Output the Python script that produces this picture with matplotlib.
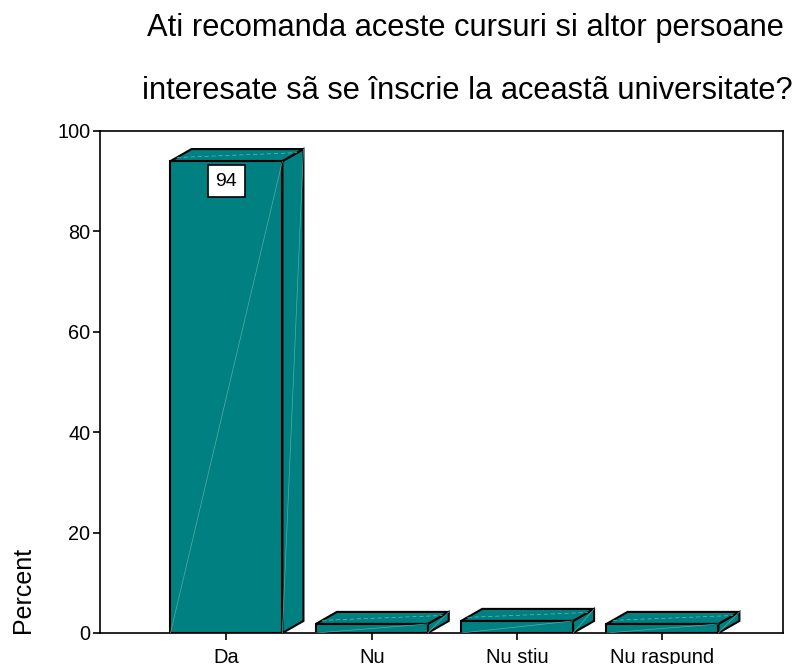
import matplotlib.pyplot as plt
from matplotlib.patches import Polygon
import numpy as np

plt.rcParams['font.family'] = ['Liberation Sans', 'DejaVu Sans']

categories = ['Da', 'Nu', 'Nu stiu', 'Nu raspund']
percent = [94, 1.8, 2.4, 1.8]
title_lines = ['Ati recomanda aceste cursuri si altor persoane',
               'interesate sã se înscrie la aceastã universitate?']

face = '#008080'
width = 0.77
dx, dy = 0.145, 2.4   # 3d depth offset in data units

fig = plt.figure(figsize=(8.1, 6.64), dpi=100)
ax = fig.add_axes([100 / 810, 31 / 664, 683 / 810, 502 / 664])

x = np.arange(len(categories))
for xi, v in zip(x, percent):
    l, r = xi - width / 2, xi + width / 2
    front = [(l, 0), (r, 0), (r, v), (l, v)]
    top = [(l, v), (r, v), (r + dx, v + dy), (l + dx, v + dy)]
    side = [(r, 0), (r + dx, dy), (r + dx, v + dy), (r, v)]
    for pts in (side, top, front):
        ax.add_patch(Polygon(pts, closed=True, facecolor=face, edgecolor='black',
                             linewidth=1.5, zorder=3))
    # faint diagonal lines of the original rendering
    ax.plot([l, r], [0, v], color='#5aabab', lw=0.5, zorder=4)
    ax.plot([r, r + dx], [0, v + dy], color='#5aabab', lw=0.5, zorder=4)
    ax.plot([l + dx * 0.3, r + dx * 0.7], [v + dy * 0.3, v + dy * 0.7],
            color='#6fbaba', lw=0.5, ls=(0, (6, 4)), zorder=4)

ax.text(x[0], percent[0] - 4, '%d' % percent[0], ha='center', va='center',
        fontsize=14, zorder=5,
        bbox=dict(boxstyle='square,pad=0.4', facecolor='white', edgecolor='black', lw=1.2))

ax.set_xlim(-0.87, 3.83)
ax.set_ylim(0, 100)
ax.set_xticks(x)
ax.set_xticklabels(categories, fontsize=14.5)
ax.set_yticks([0, 20, 40, 60, 80, 100])
ax.tick_params(axis='y', labelsize=14.3, length=5, width=1.2, direction='out', pad=2)
ax.tick_params(axis='x', length=5, width=1.2, direction='out', pad=6)
for s in ax.spines.values():
    s.set_linewidth(1.2)

ax.set_ylabel('Percent', fontsize=18, y=0.0, ha='left', labelpad=16)
fig.text(465 / 810, 1 - 36 / 664, title_lines[0], ha='center', va='baseline', fontsize=22.2)
fig.text(467 / 810, 1 - 99 / 664, title_lines[1], ha='center', va='baseline', fontsize=22.2)

fig.savefig('out.png', dpi=100)
